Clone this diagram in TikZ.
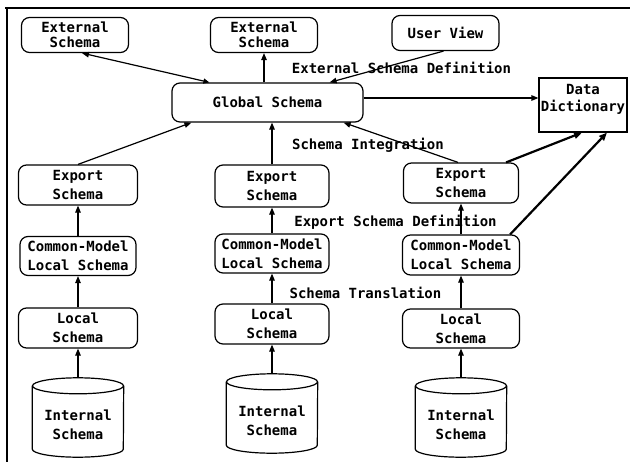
\documentclass[tikz,border=0pt]{standalone}
\usepackage{fontspec}
\setmonofont{DejaVu Sans Mono}
\usetikzlibrary{arrows.meta}
\tikzset{
  lbl/.style={font=\ttfamily\bfseries\fontsize{14}{19}\selectfont, align=center, inner sep=0pt},
  rbox/.style={lbl, draw, line width=1.2pt, rounded corners=8pt, minimum height=40pt},
  extbox/.style={rbox, font=\ttfamily\bfseries\fontsize{14}{15}\selectfont, minimum width=107pt, minimum height=35pt},
  ddbox/.style={draw, line width=1.2pt, minimum width=88pt, minimum height=54pt, inner sep=0pt},
  cylbody/.style={minimum width=91pt, minimum height=63pt, inner sep=0pt},
  conn/.style={line width=1.2pt, -{Triangle[length=7pt,width=5.5pt]}},
  heavyconn/.style={line width=2.2pt, -{Triangle[length=8pt,width=6.5pt]}},
}
\newcommand\dbcyl[1]{%
  \draw[line width=1.2pt] (#1.north) ellipse [x radius=45.5pt, y radius=8pt];
  \draw[line width=1.2pt] (#1.north west) -- (#1.south west)
     arc [start angle=180, end angle=360, x radius=45.5pt, y radius=8pt] -- (#1.north east);}
\begin{document}
\begin{tikzpicture}[x=1pt, y=-1pt]
\useasboundingbox (0,0) rectangle (630,471);
% frame
\draw[line width=2.2pt] (5,8) -- (630,8);
\draw[line width=2pt] (7,7) -- (7,462);

% top row
\node[extbox] (extL) at (75,35) {External\\Schema};
\node[extbox] (extC) at (264,35) {External\\Schema};
\node[extbox] (user) at (445.5,33) {User View};
\node[rbox, minimum width=191pt, minimum height=39pt] (global) at (267.5,102.5) {Global Schema};
\node[ddbox, label={[lbl, font=\ttfamily\bfseries\fontsize{14}{17}\selectfont, yshift=6pt]center:{Data\\Dictionary}}] (dd) at (583,105) {};

% left column
\node[rbox, minimum width=119pt] (expL) at (78,185) {Export\\Schema};
\node[rbox, minimum width=116pt, minimum height=39pt] (cmL) at (78,256) {Common-Model\\Local Schema};
\node[rbox, minimum width=119pt] (locL) at (78,328) {Local\\Schema};
\node[cylbody, label={[lbl, yshift=-7pt]center:{Internal\\Schema}}] (cylL) at (78,417.5) {};
\dbcyl{cylL}

% middle column
\node[rbox, minimum width=114pt, minimum height=42pt] (expM) at (272,186) {Export\\Schema};
\node[rbox, minimum width=114pt, minimum height=39pt] (cmM) at (272,253.5) {Common-Model\\Local Schema};
\node[rbox, minimum width=114pt] (locM) at (272,324) {Local\\Schema};
\node[cylbody, label={[lbl, yshift=-7pt]center:{Internal\\Schema}}] (cylM) at (272,413.5) {};
\dbcyl{cylM}

% right column
\node[rbox, minimum width=115pt] (expR) at (461,183) {Export\\Schema};
\node[rbox, minimum width=117pt] (cmR) at (461,255) {Common-Model\\Local Schema};
\node[rbox, minimum width=117pt, minimum height=39pt] (locR) at (461,328.5) {Local\\Schema};
\node[cylbody, label={[lbl, yshift=-7pt]center:{Internal\\Schema}}] (cylR) at (461,417.5) {};
\dbcyl{cylR}

% labels
\node[lbl] (esd) at (401.5,68) {External Schema Definition};
\node[lbl] (si) at (368,145) {Schema Integration};
\node[lbl] (esdef) at (395.5,222) {Export Schema Definition};
\node[lbl] (st) at (365.5,293) {Schema Translation};

% connectors top
\draw[conn, {Triangle[length=6pt,width=5pt]}-{Triangle[length=7pt,width=5.5pt]}] ([xshift=38pt]global.north west) -- ([xshift=7pt]extL.south);
\draw[conn] (global.north -| extC.south) -- (extC.south);
\draw[conn] ([xshift=-2pt]user.south) -- ([xshift=-34pt]global.north east);
\coordinate (gd) at ([yshift=4.5pt]global.east);
\draw[conn] (gd) -- (gd -| dd.west);

% export -> global
\draw[conn] (expL.north) -- ([xshift=20pt]global.south west);
\draw[conn] (expM.north) -- (global.south -| expM.north);
\draw[conn] ([xshift=-3pt]expR.north) -- ([xshift=-20pt]global.south east);

% to data dictionary
\draw[heavyconn] ([xshift=-13pt]expR.north east) -- ([xshift=-1pt]dd.south);
\draw[heavyconn] ([xshift=-10pt]cmR.north east) -- ([xshift=24pt]dd.south);

% columns
\foreach \c in {L,M,R}{
  \draw[conn] (cm\c.north) -- (exp\c.south);
  \draw[conn] (loc\c.north) -- (cm\c.south);
  \draw[conn] ([yshift=8pt]cyl\c.north) -- (loc\c.south);
}
\end{tikzpicture}
\end{document}
